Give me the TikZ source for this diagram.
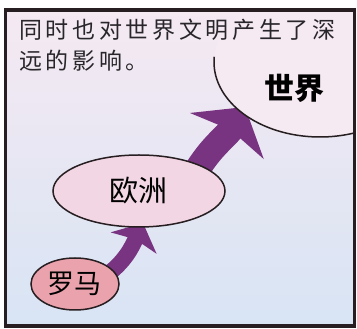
\documentclass[tikz,border=0pt]{standalone}
\usepackage{fontspec}
\usepackage{xcolor}
\usetikzlibrary{shapes.geometric,arrows.meta}
\newfontfamily\cjk{Noto Sans CJK SC}
\newfontfamily\cjkspaced{Noto Sans CJK SC}[LetterSpace=16]
\definecolor{panelBottom}{RGB}{216,228,244}
\definecolor{frameInk}{RGB}{38,30,32}
\definecolor{textInk}{RGB}{40,38,42}
\definecolor{arrowPurple}{RGB}{120,52,128}
\definecolor{romePink}{RGB}{234,162,172}
\definecolor{europePink}{RGB}{243,214,228}
\definecolor{worldPink}{RGB}{245,233,242}

\begin{document}
\begin{tikzpicture}[x=1pt,y=1pt]
  \tikzstyle{place}=[ellipse,draw=frameInk,line width=1.5pt,inner sep=0pt,text=black]
  \tikzstyle{flow}=[arrowPurple,line width=16pt,-{Stealth[inset=4pt,length=22pt,width=50pt]}]
  \tikzstyle{caption}=[anchor=base west,inner sep=0pt,text=textInk,font=\cjkspaced\fontsize{23}{23}\selectfont]

  \useasboundingbox (0,0) rectangle (357,329);
  \fill[white] (0,0) rectangle (357,329);
  \shade[top color=worldPink,bottom color=panelBottom,middle color=worldPink!50!panelBottom] (5.5,3) rectangle (354.5,319);

  % arrows go under the ellipses
  \coordinate (romeOut) at (104,52);
  \coordinate (europeIn) at (143,106);
  \coordinate (europeOut) at (192,150);
  \coordinate (worldIn) at (245,222);
  \draw[flow] (romeOut) to[out=35,in=245] (europeIn);
  \draw[flow,line width=26pt,-{Stealth[inset=7pt,length=34pt,width=86pt]}] (europeOut) to[out=62,in=238] (worldIn);

  % the world, cut by the frame
  \begin{scope}
    \clip (5.5,3) rectangle (354.5,319);
    \fill[worldPink] (320,267) ellipse [x radius=106,y radius=75];
    \draw[frameInk,line width=1.5pt] (320,267) ++(176:106 and 75) arc[start angle=176,end angle=300,x radius=106,y radius=75];
  \end{scope}

  \node[place,fill=europePink,minimum width=172pt,minimum height=72pt,font=\cjk\fontsize{29}{29}\selectfont] (europe) at (139,138) {欧洲};
  \node[place,fill=romePink,minimum width=88pt,minimum height=52pt,font=\cjk\fontsize{27}{27}\selectfont] (rome) at (75,45) {罗马};
  \node[inner sep=0pt,font=\cjk\bfseries\fontsize{30}{30}\selectfont] (world) at (294,241) {世界};

  \node[caption] (line1) at (19,290) {同时也对世界文明产生了深};
  \node[caption] (line2) at (19,259) {远的影响。};

  \draw[frameInk,line width=3.5pt] (5.5,3) rectangle (354.5,319);
\end{tikzpicture}
\end{document}
